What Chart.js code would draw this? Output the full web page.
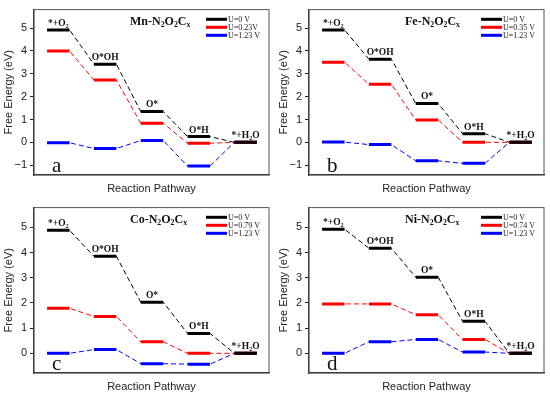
<!DOCTYPE html>
<html>
<head>
<meta charset="utf-8">
<script src="https://cdn.jsdelivr.net/npm/chart.js@4.4.1/dist/chart.umd.min.js"></script>
<style>
  html, body { margin: 0; padding: 0; background: #fff; }
  #grid { display: grid; grid-template-columns: 275px 275px; grid-template-rows: 198px 198px; width: 550px; height: 396px; }
  canvas { display: block; }
</style>
</head>
<body>
<div id="grid">
  <canvas id="chartA" width="275" height="198"></canvas>
  <canvas id="chartB" width="275" height="198"></canvas>
  <canvas id="chartC" width="275" height="198"></canvas>
  <canvas id="chartD" width="275" height="198"></canvas>
</div>
<script>
// '_' marks the next character as a subscript
const steps = ['*+O_2', 'O*OH', 'O*', 'O*H', '*+H_2O'];

const mnU0 = [4.92, 3.42, 1.35, 0.25, 0];
const mnU1 = [4.00, 2.73, 0.84, -0.04, 0];
const mnU2 = [-0.02, -0.27, 0.08, -1.04, 0];
const mnLegend = ['U=0 V', 'U=0.23V', 'U=1.23 V'];

const feU0 = [4.92, 3.64, 1.70, 0.38, 0];
const feU1 = [3.51, 2.54, 0.98, 0, 0];
const feU2 = [0.01, -0.10, -0.81, -0.92, 0];
const feLegend = ['U=0 V', 'U=0.35 V', 'U=1.23 V'];

const coU0 = [4.88, 3.85, 2.03, 0.79, 0];
const coU1 = [1.79, 1.46, 0.46, 0, 0];
const coU2 = [0, 0.15, -0.41, -0.43, 0];
const coLegend = ['U=0 V', 'U=0.79 V', 'U=1.23 V'];

const niU0 = [4.92, 4.17, 3.02, 1.27, 0];
const niU1 = [1.96, 1.96, 1.53, 0.55, 0];
const niU2 = [0, 0.46, 0.55, 0.05, 0];
const niLegend = ['U=0 V', 'U=0.74 V', 'U=1.23 V'];

const yTicks = [-1, 0, 1, 2, 3, 4, 5];

const colors = ['#000000', '#ff0000', '#0000ff'];
const HALF = 0.24; // half width of an energy level, in step units
const SERIF = '"Liberation Serif", "Times New Roman", serif';
const SANS = '"Liberation Sans", Arial, sans-serif';

function stepPoints(vals) {
    const pts = [];
    vals.forEach((v, i) => {
        pts.push({ x: i - HALF, y: v });
        pts.push({ x: i + HALF, y: v });
        pts.push({ x: i + HALF, y: null });
    });
    return pts;
}

function pathPoints(vals) {
    const pts = [];
    vals.forEach((v, i) => {
        pts.push({ x: i - HALF, y: v });
        pts.push({ x: i + HALF, y: v });
    });
    return pts;
}

function drawRich(ctx, text, x, y, size, bold, align) {
    const parts = [];
    for (let i = 0; i < text.length; i++) {
        if (text[i] === '_') { parts.push({ t: text[i + 1], sub: true }); i++; }
        else parts.push({ t: text[i], sub: false });
    }
    const fMain = (bold ? 'bold ' : '') + size + 'px ' + SERIF;
    const fSub = (bold ? 'bold ' : '') + (size * 0.65) + 'px ' + SERIF;
    let total = 0;
    parts.forEach(p => {
        ctx.font = p.sub ? fSub : fMain;
        p.w = ctx.measureText(p.t).width;
        total += p.w;
    });
    let cx = align === 'center' ? x - total / 2 : x;
    ctx.textAlign = 'left';
    ctx.textBaseline = 'alphabetic';
    parts.forEach(p => {
        ctx.font = p.sub ? fSub : fMain;
        ctx.fillText(p.t, cx, p.sub ? y + size * 0.22 : y);
        cx += p.w;
    });
}

const decoPlugin = {
    id: 'deco',
    afterDatasetsDraw(chart) {
        const o = chart.options.plugins.deco;
        const { ctx, chartArea } = chart;
        const xs = chart.scales.x, ys = chart.scales.y;
        ctx.save();
        // frame
        ctx.strokeStyle = '#555';
        ctx.lineWidth = 1;
        ctx.strokeRect(chartArea.left, chartArea.top, chartArea.right - chartArea.left, chartArea.bottom - chartArea.top);
        ctx.fillStyle = '#111';
        // level labels
        steps.forEach((s, i) => {
            drawRich(ctx, s, xs.getPixelForValue(i), ys.getPixelForValue(o.top[i]) - 4, 9.5, true, 'center');
        });
        // compound name
        drawRich(ctx, o.name, chartArea.left + 96, chartArea.top + 15, 12, true, 'left');
        // legend
        o.legend.forEach((lab, k) => {
            const y = chartArea.top + 9.7 + 8 * k;
            ctx.strokeStyle = colors[k];
            ctx.lineWidth = 3;
            ctx.beginPath();
            ctx.moveTo(chartArea.right - 63, y);
            ctx.lineTo(chartArea.right - 42, y);
            ctx.stroke();
            ctx.fillStyle = '#222';
            ctx.font = '8px ' + SERIF;
            ctx.textAlign = 'left';
            ctx.textBaseline = 'middle';
            ctx.fillText(lab, chartArea.right - 41, y + 0.5);
        });
        // panel letter
        ctx.fillStyle = '#111';
        ctx.font = '21px ' + SERIF;
        ctx.textAlign = 'left';
        ctx.textBaseline = 'alphabetic';
        ctx.fillText(o.letter, chartArea.left + 18, chartArea.bottom - 3);
        ctx.restore();
    }
};

function makeChart(id, series, legend, name, letter, yMin, yMax) {
    const datasets = [];
    series.forEach((vals, k) => {
        datasets.push({
            data: stepPoints(vals),
            borderColor: colors[k],
            borderWidth: 3,
            pointRadius: 0,
            spanGaps: false
        });
    });
    series.forEach((vals, k) => {
        datasets.push({
            data: pathPoints(vals),
            borderColor: colors[k],
            borderWidth: 1,
            borderDash: [5, 3],
            pointRadius: 0
        });
    });
    return new Chart(document.getElementById(id), {
        type: 'line',
        data: { datasets: datasets },
        options: {
            responsive: false,
            animation: false,
            layout: { padding: { top: 5, right: 6, left: 0, bottom: 0 } },
            plugins: {
                legend: { display: false },
                tooltip: { enabled: false },
                deco: { top: series[0], legend: legend, name: name, letter: letter }
            },
            scales: {
                x: {
                    type: 'linear',
                    min: -0.52,
                    max: 4.5,
                    ticks: { display: false },
                    grid: { display: false, drawTicks: false },
                    border: { display: true, color: '#222', width: 1.2 },
                    title: {
                        display: true,
                        text: 'Reaction Pathway',
                        color: '#222',
                        font: { family: SANS, size: 11 },
                        padding: { top: 0, bottom: 2 }
                    },
                    afterFit(scale) { scale.height = 23; }
                },
                y: {
                    min: yMin,
                    max: yMax,
                    afterBuildTicks(scale) {
                        scale.ticks = yTicks.filter(v => v >= yMin && v <= yMax).map(v => ({ value: v }));
                    },
                    ticks: {
                        color: '#222',
                        padding: 3,
                        font: { family: SANS, size: 11 },
                        callback: v => String(v).replace('-', '\u2212')
                    },
                    grid: { drawOnChartArea: false, drawTicks: true, tickLength: 4, color: '#222' },
                    border: { display: true, color: '#222', width: 1.2 },
                    title: {
                        display: true,
                        text: 'Free Energy (eV)',
                        color: '#222',
                        font: { family: SANS, size: 11 },
                        padding: { top: 2, bottom: 0 }
                    },
                    afterFit(scale) { scale.width = 34; }
                }
            }
        },
        plugins: [decoPlugin]
    });
}

makeChart('chartA', [mnU0, mnU1, mnU2], mnLegend, 'Mn-N_2O_2C_x', 'a', -1.43, 5.81);
makeChart('chartB', [feU0, feU1, feU2], feLegend, 'Fe-N_2O_2C_x', 'b', -1.43, 5.81);
makeChart('chartC', [coU0, coU1, coU2], coLegend, 'Co-N_2O_2C_x', 'c', -0.78, 5.78);
makeChart('chartD', [niU0, niU1, niU2], niLegend, 'Ni-N_2O_2C_x', 'd', -0.78, 5.78);
</script>
</body>
</html>
